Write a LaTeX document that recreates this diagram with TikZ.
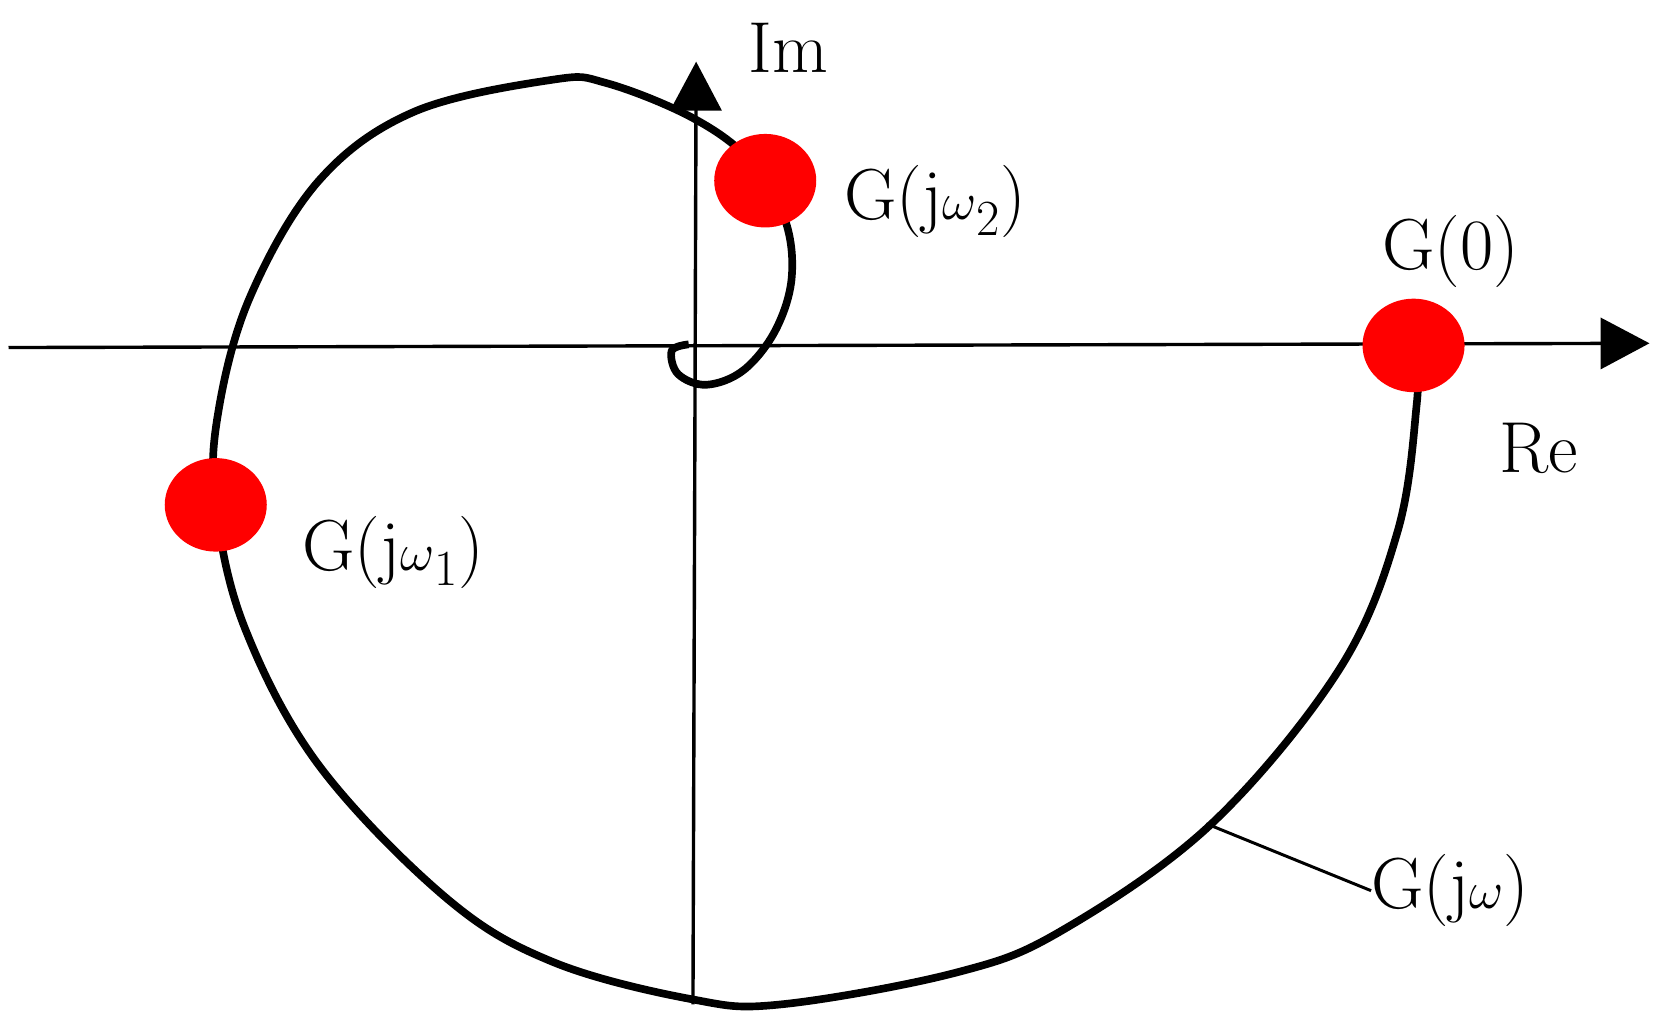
\documentclass[tikz,border=0pt]{standalone}
\usetikzlibrary{arrows.meta,shapes.geometric}
\begin{document}
\begin{tikzpicture}[x=0.5pt,y=-0.5pt,
  lbl/.style={font=\fontsize{34}{38}\selectfont, inner sep=0pt},
  dot/.style={fill=red, ellipse, minimum width=48pt, minimum height=44pt, inner sep=0pt},
  ax/.style={line width=1.6pt, -{Triangle[length=23pt,width=24pt]}}]
\useasboundingbox (0,0) rectangle (1560,954);
\coordinate (xs) at (8,327); \coordinate (xe) at (1552,323);
\coordinate (ys) at (652,945); \coordinate (ye) at (655,58);
\draw[ax] (xs) -- (xe);
\draw[ax] (ys) -- (ye);
\draw[line width=3.6pt, line join=round] plot[smooth, tension=0.6] coordinates {
(1333,330) (1333,380) (1315,500) (1260,630) (1140,775) (1000,875) (900,915) (735,945) (650,940) (520,905) (420,845) (300,720) (230,590) (203,475) (205,390) (235,280) (300,170) (390,105) (520,75) (570,78) (650,110) (705,150) (738,205) (745,260) (730,310) (700,348) (665,362) (638,352) (632,330) (648,324)};
\node[dot] (g0) at (1330,325) {};
\node[dot] (g1) at (203,475) {};
\node[dot] (g2) at (720,170) {};
\node[lbl] (l0) at (1365,237) {G(0)};
\node[lbl] (l1) at (370,520) {G(j$\omega$\textsubscript{1})};
\node[lbl] (l2) at (880,190) {G(j$\omega$\textsubscript{2})};
\node[lbl, anchor=west] (lw) at (1290,838) {G(j$\omega$)};
\node[lbl] (im) at (742,45) {Im};
\node[lbl] (re) at (1448,422) {Re};
\coordinate (p) at (1135,775);
\draw[line width=1.4pt] (p) -- (lw.west);
\end{tikzpicture}
\end{document}
